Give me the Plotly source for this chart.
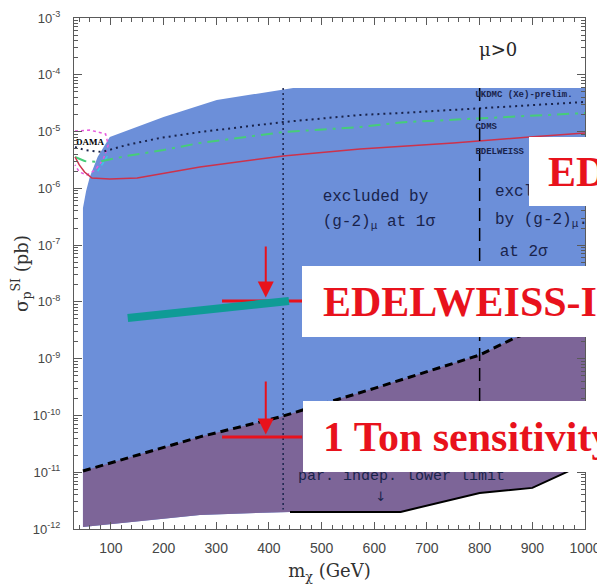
import numpy as np
import plotly.graph_objects as go

# ---------------- data (GeV, pb) ----------------
# excluded (blue) region boundary
blue_x = [47, 47, 53, 60, 75, 98, 200, 301, 446, 1000, 1000, 966, 900, 800, 650, 440, 269, 47]
blue_y = [1.09e-12, 4.5e-7, 9e-7, 1.58e-6, 3.6e-6, 8.0e-6, 1.8e-5, 3.6e-5, 5.85e-5, 5.85e-5,
          1.5e-11, 1.01e-11, 5.3e-12, 4.3e-12, 2.0e-12, 2.0e-12, 1.77e-12, 1.09e-12]

# purple region: upper (dashed) edge and lower edge
ptop_x = [47, 269, 421, 600, 800, 870, 1000]
ptop_y = [1.05e-11, 4.2e-11, 9.4e-11, 3.0e-10, 1.16e-9, 2.4e-9, 6e-9]
pbot_x = [1000, 966, 900, 800, 650, 440, 269, 47]
pbot_y = [1.5e-11, 1.01e-11, 5.3e-12, 4.3e-12, 2.0e-12, 2.0e-12, 1.77e-12, 1.09e-12]

# parameter independent lower limit (solid black)
low_x = [440, 650, 800, 900, 966, 1000]
low_y = [2.0e-12, 2.0e-12, 4.3e-12, 5.3e-12, 1.01e-11, 1.5e-11]

# experimental limits
ukdmc_x = [32, 50, 83, 130, 193, 269, 427, 573, 650, 800, 1000]
ukdmc_y = [5.35e-6, 4.73e-6, 4.36e-6, 5.8e-6, 7.7e-6, 9.8e-6, 1.47e-5, 1.96e-5, 2.12e-5, 2.6e-5, 3.32e-5]
cdms_x = [32, 50, 74, 130, 200, 269, 427, 573, 650, 800, 1000]
cdms_y = [3.56e-6, 3.03e-6, 2.91e-6, 3.71e-6, 4.73e-6, 6.3e-6, 9.8e-6, 1.2e-5, 1.45e-5, 1.7e-5, 2.12e-5]
edw_x = [32, 40, 50, 64, 98, 150, 269, 427, 573, 750, 895, 1000]
edw_y = [3.56e-6, 2.58e-6, 1.94e-6, 1.52e-6, 1.46e-6, 1.52e-6, 2.38e-6, 3.71e-6, 4.93e-6, 6.3e-6, 8.0e-6, 9.4e-6]
dama_x = [32, 60, 90, 95, 85, 70, 55, 40, 32]
dama_y = [1.02e-5, 1.06e-5, 9.06e-6, 5.8e-6, 3.16e-6, 2.1e-6, 1.72e-6, 1.94e-6, 2.58e-6]
cyan_x = [75, 95]
cyan_y = [2.0e-6, 3.9e-6]

# g-2 bounds
g2_1s_x = [427, 427]
g2_1s_y = [5.85e-5, 2.2e-12]
g2_2s_x = [800, 800]
g2_2s_y = [5.85e-5, 3.7e-11]

# overlay marks
teal_x = [132, 438]
teal_y = [5.2e-9, 1.04e-8]
bar1_x = [311, 463]
bar1_y = [1.04e-8, 1.04e-8]
bar2_x = [311, 463]
bar2_y = [4.18e-11, 4.18e-11]
arrow1 = dict(x=394, tail=1.0e-7, tip=1.2e-8)
arrow2 = dict(x=394, tail=4.2e-10, tip=4.6e-11)

# text labels inside the plot
mono_text = ["excluded by", "(g-2)<sub>μ</sub> at 1σ", "excluded", "by (g-2)<sub>μ</sub>.", "at 2σ"]
mono_x = [502, 502, 829, 829, 838]
mono_y = [7.03e-7, 2.55e-7, 8.6e-7, 2.77e-7, 7.57e-8]
lim_text = ["<b>UKDMC (Xe)-prelim.</b>", "<b>CDMS</b>", "<b>EDELWEISS</b>"]
lim_x = [792, 792, 792]
lim_y = [4.4e-5, 1.2e-5, 4.36e-6]

ytick_exp = [-12, -11, -10, -9, -8, -7, -6, -5, -4, -3]
xtick_vals = [100, 200, 300, 400, 500, 600, 700, 800, 900, 1000]

BLUE = "rgb(108,143,217)"
PURPLE = "rgb(125,101,152)"
RED = "rgb(232,18,28)"
INK = "rgb(25,35,75)"

fig = go.Figure()
fig.add_trace(go.Scatter(x=blue_x, y=blue_y, fill="toself", fillcolor=BLUE,
                         line=dict(width=0), mode="lines", hoverinfo="skip"))
fig.add_trace(go.Scatter(x=ptop_x + pbot_x, y=ptop_y + pbot_y, fill="toself", fillcolor=PURPLE,
                         line=dict(width=0), mode="lines", hoverinfo="skip"))
fig.add_trace(go.Scatter(x=ptop_x, y=ptop_y, mode="lines",
                         line=dict(color="black", width=3, dash="8px,5px")))
fig.add_trace(go.Scatter(x=low_x, y=low_y, mode="lines", line=dict(color="black", width=2)))
fig.add_trace(go.Scatter(x=dama_x, y=dama_y, mode="lines",
                         line=dict(color="rgb(230,90,220)", width=1.5, dash="dot")))
fig.add_trace(go.Scatter(x=cyan_x, y=cyan_y, mode="lines",
                         line=dict(color="rgb(60,200,230)", width=1.5, dash="4px,3px")))
fig.add_trace(go.Scatter(x=cdms_x, y=cdms_y, mode="lines",
                         line=dict(color="rgb(70,205,120)", width=2, dash="12px,6px,3px,6px")))
fig.add_trace(go.Scatter(x=ukdmc_x, y=ukdmc_y, mode="lines",
                         line=dict(color=INK, width=2, dash="2px,4px")))
fig.add_trace(go.Scatter(x=edw_x, y=edw_y, mode="lines",
                         line=dict(color="rgb(205,50,75)", width=1.5)))
fig.add_trace(go.Scatter(x=g2_1s_x, y=g2_1s_y, mode="lines",
                         line=dict(color=INK, width=1.5, dash="2px,3px")))
fig.add_trace(go.Scatter(x=g2_2s_x, y=g2_2s_y, mode="lines",
                         line=dict(color="black", width=1.5, dash="13px,7px")))

# texts inside plot
fig.add_trace(go.Scatter(x=mono_x, y=mono_y, text=mono_text, mode="text",
                         textposition="middle right",
                         textfont=dict(family="Liberation Mono", size=16, color=INK)))
fig.add_trace(go.Scatter(x=[455], y=[8.6e-12], text=["par. indep. lower limit"], mode="text",
                         textposition="middle right",
                         textfont=dict(family="Liberation Mono", size=15, color=INK)))
fig.add_trace(go.Scatter(x=[612], y=[3.6e-12], text=["↓"], mode="text",
                         textposition="middle center",
                         textfont=dict(family="DejaVu Sans", size=13, color=INK)))
fig.add_trace(go.Scatter(x=lim_x, y=lim_y, text=lim_text, mode="text",
                         textposition="middle right",
                         textfont=dict(family="Liberation Mono", size=9, color=INK)))
fig.add_trace(go.Scatter(x=[34], y=[6.3e-6], text=["<b>DAMA</b>"], mode="text",
                         textposition="middle right",
                         textfont=dict(family="Liberation Serif", size=9, color="black")))
fig.add_trace(go.Scatter(x=[835], y=[2.52e-4], text=["μ>0"], mode="text",
                         textposition="middle center",
                         textfont=dict(family="DejaVu Serif", size=18, color="rgb(40,40,40)")))

# red bars and teal line
fig.add_trace(go.Scatter(x=bar1_x, y=bar1_y, mode="lines", line=dict(color=RED, width=3)))
fig.add_trace(go.Scatter(x=bar2_x, y=bar2_y, mode="lines", line=dict(color=RED, width=3)))
fig.add_trace(go.Scatter(x=teal_x, y=teal_y, mode="lines", line=dict(color="rgb(15,155,150)", width=8)))

annotations = []
for a in (arrow1, arrow2):
    annotations.append(dict(x=a["x"], y=np.log10(a["tip"]), ax=a["x"], ay=np.log10(a["tail"]),
                            xref="x", yref="y", axref="x", ayref="y", text="",
                            showarrow=True, arrowhead=2, arrowsize=1.6, arrowwidth=2,
                            arrowcolor=RED, standoff=0))

# white boxes with red captions (overlay); helpers map window pixels to paper fractions
def px_x(p):
    return (p - 74) / 511.0

def px_y(p):
    return (529 - p) / 511.0

shapes = []
for (x0, y0, y1) in [(529, 137, 206), (302, 266, 337), (303, 401, 472)]:
    shapes.append(dict(type="rect", xref="paper", yref="paper", x0=px_x(x0), x1=px_x(640),
                       y0=px_y(y1), y1=px_y(y0), fillcolor="white", line=dict(width=0),
                       layer="above"))

capfont = dict(family="Liberation Serif", size=42, color=RED)
for txt, xl, yc in [("<b>ED</b>", 546, 172), ("<b>EDELWEISS-I</b>", 321, 302),
                    ("<b>1 Ton sensitivity</b>", 321, 437)]:
    annotations.append(dict(text=txt, xref="paper", yref="paper", x=px_x(xl), y=px_y(yc),
                            xanchor="left", yanchor="middle", showarrow=False, font=capfont))
annotations.append(dict(text="E", xref="paper", yref="paper", x=px_x(597), y=px_y(33),
                        xanchor="left", yanchor="middle", showarrow=False,
                        font=dict(family="Liberation Sans", size=18, color="black")))

axcol = "rgb(90,90,90)"
# page body has an 8px default margin, so the figure is 8px smaller than the window
fig.update_layout(
    width=597, height=576, margin=dict(l=66, r=20, t=10, b=55),
    paper_bgcolor="white", plot_bgcolor="white", showlegend=False,
    shapes=shapes, annotations=annotations,
    xaxis=dict(range=[30, 1000], tickvals=xtick_vals, ticks="inside", ticklen=7,
               tickcolor=axcol, showline=True, linecolor=axcol, linewidth=1, mirror="allticks",
               showgrid=False, zeroline=False, automargin=False,
               minor=dict(dtick=20, ticks="inside", ticklen=4, tickcolor=axcol),
               tickfont=dict(family="Liberation Sans", size=14, color="rgb(70,70,70)"),
               ticklabelstandoff=6,
               title=dict(text="m<sub>χ</sub> (GeV)",
                          font=dict(family="DejaVu Serif", size=18, color="rgb(50,50,50)"))),
    yaxis=dict(type="log", range=[-12, -3], tickvals=[10.0 ** e for e in ytick_exp],
               ticktext=["10<sup>%d</sup>" % e for e in ytick_exp],
               ticks="inside", ticklen=8, tickcolor=axcol, showline=True, linecolor=axcol,
               linewidth=1, mirror="allticks", showgrid=False, zeroline=False, automargin=False,
               minor=dict(ticks="inside", ticklen=4, tickcolor=axcol, dtick="D1"),
               tickfont=dict(family="Liberation Sans", size=13, color="rgb(70,70,70)"),
               ticklabelstandoff=10,
               title=dict(text="σ<sub>p</sub><sup>SI</sup> (pb)",
                          font=dict(family="DejaVu Serif", size=18, color="rgb(50,50,50)"))),
)

fig.write_html("out.html")
